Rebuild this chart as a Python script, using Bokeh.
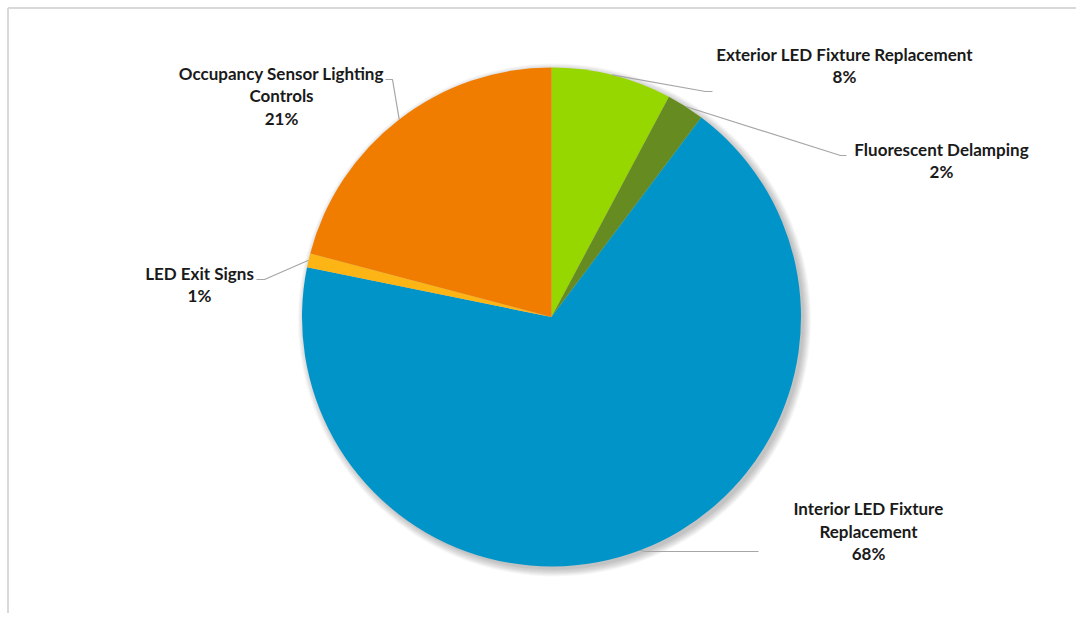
import math
from bokeh.plotting import figure
from bokeh.models import Range1d, ColumnDataSource
from bokeh.core.properties import value
from bokeh.embed import file_html
from bokeh.resources import INLINE

# ---- data ----
categories = ["Exterior LED Fixture Replacement", "Fluorescent Delamping",
              "Interior LED Fixture Replacement", "LED Exit Signs",
              "Occupancy Sensor Lighting Controls"]
shares = [7.8, 2.45, 67.95, 0.9, 20.9]
colors = ["#97D700", "#668C21", "#0094C9", "#FDB515", "#F07D00"]
label_lines = [["Exterior LED Fixture Replacement"],
               ["Fluorescent Delamping"],
               ["Interior LED Fixture", "Replacement"],
               ["LED Exit Signs"],
               ["Occupancy Sensor Lighting", "Controls"]]

# ---- layout (reference screen coords) ----
W, H = 1076, 613
def X(xr): return xr
def Y(yr): return H - yr

CX, CY, R = 551, 316.5, 249.5
label_pos = [(844, 53.5), (941, 148.5), (868, 508), (199, 272.5), (281, 72.5)]
elbows = [[(705, 91), (712, 91)],
          [(840, 155), (846, 155)],
          [(645, 551), (758, 551)],
          [(264, 279), (256, 279)],
          [(392, 79), (385, 79)]]
LINE_H = 22.5
FONT = "Lato"

p = figure(width=W, height=H, x_range=Range1d(0, W), y_range=Range1d(0, H),
           output_backend="svg", toolbar_location=None, min_border=0)
p.axis.visible = False
p.grid.visible = False
p.outline_line_color = None
p.background_fill_color = "white"
p.border_fill_color = "white"

# frame (top and left edges visible)
p.line([X(7.5), X(7.5)], [0, Y(7.5)], line_color="#d9d9d9", line_width=2)
p.line([X(7.5), W], [Y(7.5), Y(7.5)], line_color="#d9d9d9", line_width=2)

# soft shadow
for k in range(8):
    p.circle(x=[X(CX + 3)], y=[Y(CY + 3)], radius=R + 7 - k,
             fill_color="black", fill_alpha=0.032, line_color=None)

# wedges
total = sum(shares)
starts, ends, mids = [], [], []
cum = 0.0
for s in shares:
    a0 = math.pi / 2 - 2 * math.pi * cum / total
    cum += s
    a1 = math.pi / 2 - 2 * math.pi * cum / total
    starts.append(a0); ends.append(a1); mids.append((a0 + a1) / 2)

src = ColumnDataSource(dict(start=starts, end=ends, color=colors, cat=categories))
p.wedge(x=X(CX), y=Y(CY), radius=R, start_angle="start", end_angle="end",
        direction="clock", fill_color="color", line_color=None, source=src)

# leader lines
for m, el in zip(mids, elbows):
    xs = [X(CX) + R * math.cos(m)] + [X(e[0]) for e in el]
    ys = [Y(CY) + R * math.sin(m)] + [Y(e[1]) for e in el]
    p.line(xs, ys, line_color="#a6a6a6", line_width=1.2)

# labels
for s, lines, (lx, ly) in zip(shares, label_lines, label_pos):
    texts = lines + [f"{round(s / total * 100)}%"]
    for i, t in enumerate(texts):
        p.text(x=[X(lx)], y=[Y(ly + i * LINE_H)], text=[t],
               text_align="center", text_baseline="middle",
               text_font=value(FONT), text_font_style="bold",
               text_font_size="17px", text_color="#1a1a1a")

open("out.html", "w").write(file_html(p, INLINE))
